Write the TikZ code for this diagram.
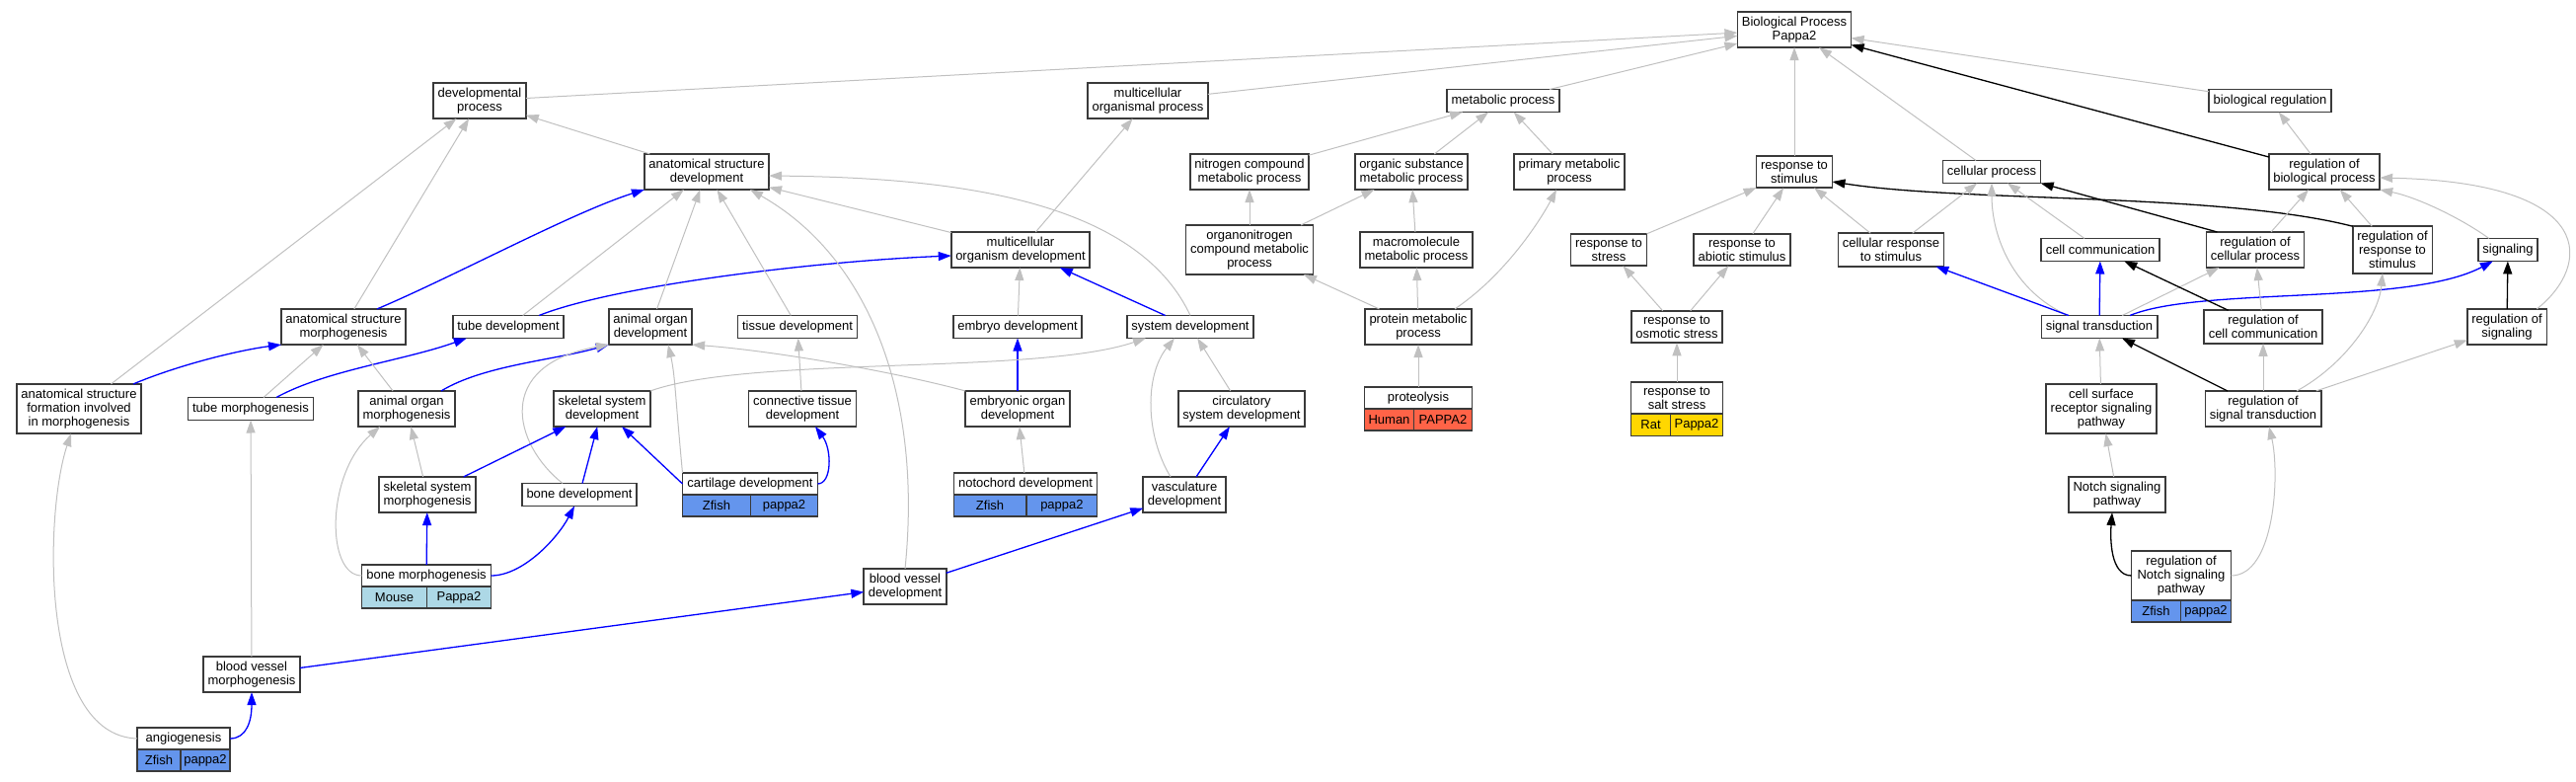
\documentclass[tikz,border=0pt]{standalone}
\usepackage{fontspec}
\setmainfont{Liberation Sans}
\usetikzlibrary{arrows.meta}
\definecolor{boxgray}{HTML}{3A3A3A}
\definecolor{edgegray}{HTML}{C0C0C0}
\definecolor{zfish}{HTML}{6495ED}
\definecolor{mouse}{HTML}{ADD8E6}
\definecolor{human}{HTML}{FF6347}
\definecolor{rat}{HTML}{FFD700}
\newcommand\gofont{\fontsize{13}{14}\selectfont}
\tikzset{
  term/.style={draw=boxgray, line width=1.6pt, fill=white, align=center,
    inner xsep=4.5pt, inner ysep=5pt, outer sep=0pt, minimum height=23pt, font=\gofont},
  cell/.style={draw=boxgray, line width=1.2pt, inner sep=0pt, outer sep=0pt,
    minimum height=22pt, font=\gofont},
  golink/.style={draw=edgegray, line width=1pt, -{Triangle[length=13pt,width=9pt]}},
  bluelink/.style={draw=blue, line width=1.3pt, -{Triangle[length=13pt,width=9pt]}},
  blacklink/.style={draw=black, line width=1.3pt, -{Triangle[length=13pt,width=9pt]}}
}
\begin{document}
\begin{tikzpicture}[x=1pt,y=-1pt]
  \useasboundingbox (0,0) rectangle (2610,792);

  \node[term] (bp) at (1818,30) {Biological Process\\Pappa2};

  \node[term] (devproc)   at (486,102)  {developmental\\process};
  \node[term] (mcorgproc) at (1163,102) {multicellular\\organismal process};
  \node[term] (metproc)   at (1523,102) {metabolic process};
  \node[term] (bioreg)    at (2300,102) {biological regulation};

  \node[term] (asdev)    at (716,174)  {anatomical structure\\development};
  \node[term] (ncmet)    at (1266,174) {nitrogen compound\\metabolic process};
  \node[term] (osmet)    at (1430,174) {organic substance\\metabolic process};
  \node[term] (primet)   at (1590,174) {primary metabolic\\process};
  \node[term] (respstim) at (1818,174) {response to\\stimulus};
  \node[term] (cellproc) at (2018,174) {cellular process};
  \node[term] (regbio)   at (2355,174) {regulation of\\biological process};

  \node[term] (mcodev)     at (1034,253) {multicellular\\organism development};
  \node[term] (onmet)      at (1266,253) {organonitrogen\\compound metabolic\\process};
  \node[term] (macmet)     at (1435,253) {macromolecule\\metabolic process};
  \node[term] (respstress) at (1630,253) {response to\\stress};
  \node[term] (respabio)   at (1765,253) {response to\\abiotic stimulus};
  \node[term] (cellresp)   at (1916,253) {cellular response\\to stimulus};
  \node[term] (cellcomm)   at (2128,253) {cell communication};
  \node[term] (regcell)    at (2285,253) {regulation of\\cellular process};
  \node[term] (regresp)    at (2424,253) {regulation of\\response to\\stimulus};
  \node[term] (signaling)  at (2541,253) {signaling};

  \node[term] (asmorph)   at (348,331)  {anatomical structure\\morphogenesis};
  \node[term] (tubedev)   at (515,331)  {tube development};
  \node[term] (aodev)     at (659,331)  {animal organ\\development};
  \node[term] (tissdev)   at (808,331)  {tissue development};
  \node[term] (embdev)    at (1031,331) {embryo development};
  \node[term] (sysdev)    at (1206,331) {system development};
  \node[term] (protmet)   at (1437,331) {protein metabolic\\process};
  \node[term] (osmstress) at (1699,331) {response to\\osmotic stress};
  \node[term] (sigtrans)  at (2127,331) {signal transduction};
  \node[term] (regcomm)   at (2293,331) {regulation of\\cell communication};
  \node[term] (regsig)    at (2540,331) {regulation of\\signaling};

  \node[term] (asform)    at (80,414)   {anatomical structure\\formation involved\\in morphogenesis};
  \node[term] (tubemorph) at (254,414)  {tube morphogenesis};
  \node[term] (aomorph)   at (412,414)  {animal organ\\morphogenesis};
  \node[term] (skeldev)   at (610,414)  {skeletal system\\development};
  \node[term] (conndev)   at (813,414)  {connective tissue\\development};
  \node[term] (embodev)   at (1031,414) {embryonic organ\\development};
  \node[term] (circdev)   at (1258,414) {circulatory\\system development};
  \node[term] (cellsurf)  at (2129,414) {cell surface\\receptor signaling\\pathway};
  \node[term] (regst)     at (2293,414) {regulation of\\signal transduction};

  \node[term, minimum width=109pt, minimum height=22pt] (proteol) at (1437,403) {proteolysis};
  \node[cell, fill=human, minimum width=50pt, anchor=north west] (proteol-sp) at (proteol.south west) {Human};
  \node[cell, fill=human, minimum width=59pt, anchor=north east] (proteol-gene) at (proteol.south east) {PAPPA2};

  \node[term, minimum width=93pt] (saltstress) at (1699,403) {response to\\salt stress};
  \node[cell, fill=rat, minimum width=40pt, anchor=north west] (saltstress-sp) at (saltstress.south west) {Rat};
  \node[cell, fill=rat, minimum width=53pt, anchor=north east] (saltstress-gene) at (saltstress.south east) {Pappa2};

  \node[term] (skelmorph) at (433,501)  {skeletal system\\morphogenesis};
  \node[term] (bonedev)   at (587,501)  {bone development};
  \node[term] (vascdev)   at (1200,501) {vasculature\\development};
  \node[term] (notch)     at (2145,501) {Notch signaling\\pathway};

  \node[term, minimum width=137pt, minimum height=22pt] (cartdev) at (760,490) {cartilage development};
  \node[cell, fill=zfish, minimum width=69pt, anchor=north west] (cartdev-sp) at (cartdev.south west) {Zfish};
  \node[cell, fill=zfish, minimum width=68pt, anchor=north east] (cartdev-gene) at (cartdev.south east) {pappa2};

  \node[term, minimum width=144pt, minimum height=22pt] (notodev) at (1039,490) {notochord development};
  \node[cell, fill=zfish, minimum width=73pt, anchor=north west] (notodev-sp) at (notodev.south west) {Zfish};
  \node[cell, fill=zfish, minimum width=71pt, anchor=north east] (notodev-gene) at (notodev.south east) {pappa2};

  \node[term, minimum width=131pt, minimum height=22pt] (bonemorph) at (432,583) {bone morphogenesis};
  \node[cell, fill=mouse, minimum width=66pt, anchor=north west] (bonemorph-sp) at (bonemorph.south west) {Mouse};
  \node[cell, fill=mouse, minimum width=65pt, anchor=north east] (bonemorph-gene) at (bonemorph.south east) {Pappa2};

  \node[term] (bvdev) at (917,594) {blood vessel\\development};

  \node[term, minimum width=101pt] (regnotch) at (2210,583) {regulation of\\Notch signaling\\pathway};
  \node[cell, fill=zfish, minimum width=50pt, anchor=north west] (regnotch-sp) at (regnotch.south west) {Zfish};
  \node[cell, fill=zfish, minimum width=51pt, anchor=north east] (regnotch-gene) at (regnotch.south east) {pappa2};

  \node[term] (bvmorph) at (255,683) {blood vessel\\morphogenesis};

  \node[term, minimum width=94pt, minimum height=22pt] (angio) at (186,748) {angiogenesis};
  \node[cell, fill=zfish, minimum width=44pt, anchor=north west] (angio-sp) at (angio.south west) {Zfish};
  \node[cell, fill=zfish, minimum width=50pt, anchor=north east] (angio-gene) at (angio.south east) {pappa2};

  \draw[golink] (devproc) -- (bp);
  \draw[golink] (mcorgproc) -- (bp);
  \draw[golink] (metproc) -- (bp);
  \draw[golink] (respstim) -- (bp);
  \draw[golink] (cellproc) -- (bp);
  \draw[golink] (bioreg) -- (bp);
  \draw[blacklink] (regbio) -- (bp);

  \draw[golink] (asdev) -- (devproc);
  \draw[golink] (asmorph) -- (devproc);
  \draw[golink] (asform) -- (devproc);
  \draw[golink] (mcodev) -- (mcorgproc);
  \draw[golink] (mcodev) -- (asdev);
  \draw[golink] (sysdev.north) .. controls (1150,200) and (960,180) .. ([yshift=-4pt]asdev.east);

  \draw[golink] (ncmet) -- (metproc);
  \draw[golink] (osmet) -- (metproc);
  \draw[golink] (primet) -- (metproc);
  \draw[golink] (onmet) -- (ncmet);
  \draw[golink] (onmet) -- (osmet);
  \draw[golink] (macmet) -- (osmet);
  \draw[golink] (protmet) -- (onmet);
  \draw[golink] (protmet) -- (macmet);
  \draw[golink] ([xshift=-17pt]protmet.north east) .. controls (1530,275) and (1565,215) .. ([xshift=-13pt]primet.south);
  \draw[golink] (proteol) -- (protmet);

  \draw[golink] (respstress) -- (respstim);
  \draw[golink] (respabio) -- (respstim);
  \draw[golink] (cellresp) -- (respstim);
  \draw[golink] (osmstress) -- (respstress);
  \draw[golink] (osmstress) -- (respabio);
  \draw[golink] (saltstress) -- (osmstress);
  \draw[blacklink] (regresp.north west) .. controls (2250,195) and (1990,205) .. ([yshift=-10pt]respstim.east);

  \draw[golink] (cellresp) -- (cellproc);
  \draw[golink] (cellcomm) -- (cellproc);
  \draw[golink] ([xshift=27pt]sigtrans.north west) .. controls (2040,295) and (2018,240) .. (cellproc.south);
  \draw[blacklink] ([xshift=11pt]regcell.north west) -- (cellproc.south east);
  \draw[golink] (regbio) -- (bioreg);
  \draw[golink] (regcell) -- (regbio);
  \draw[golink] (regresp) -- (regbio);
  \draw[golink] ([xshift=11pt]signaling.north west) .. controls (2495,222) and (2450,200) .. (regbio.south east);
  \draw[golink] ([xshift=-10pt]regsig.north east) .. controls (2625,270) and (2635,185) .. ([yshift=-6pt]regbio.east);

  \draw[bluelink] (sigtrans) -- (cellresp);
  \draw[bluelink] (sigtrans) -- (cellcomm);
  \draw[bluelink] ([xshift=31pt]sigtrans.north) .. controls (2230,290) and (2440,310) .. ([xshift=15pt]signaling.south west);
  \draw[golink] (sigtrans) -- (regcell);
  \draw[blacklink] (regcomm) -- (cellcomm);
  \draw[golink] (regcomm) -- (regcell);
  \draw[blacklink] (regsig) -- (signaling);
  \draw[blacklink] (regst) -- (sigtrans);
  \draw[golink] (regst) -- (regcomm);
  \draw[golink] (regst) -- (regsig);
  \draw[golink] ([xshift=34pt]regst.north) .. controls (2375,370) and (2410,320) .. ([xshift=-10pt]regresp.south);
  \draw[golink] (cellsurf) -- (sigtrans);
  \draw[golink] (notch) -- (cellsurf);
  \draw[blacklink] (regnotch.west) .. controls (2138,583) and (2138,545) .. ([xshift=-5pt]notch.south);
  \draw[golink] (regnotch.east) .. controls (2305,583) and (2310,480) .. ([xshift=6pt]regst.south);

  \draw[bluelink] ([xshift=34pt]asmorph.north) .. controls (460,280) and (580,215) .. (asdev.south west);
  \draw[golink] (tubedev) -- (asdev);
  \draw[bluelink] ([xshift=-25pt]tubedev.north east) .. controls (620,290) and (820,265) .. ([yshift=-6pt]mcodev.west);
  \draw[golink] (aodev) -- (asdev);
  \draw[golink] (tissdev) -- (asdev);
  \draw[golink] (bvdev.north) .. controls (935,400) and (880,260) .. ([xshift=44pt]asdev.south);
  \draw[bluelink] (sysdev) -- (mcodev);
  \draw[golink] (embdev) -- (mcodev);

  \draw[bluelink] ([xshift=-8pt]asform.north east) .. controls (180,370) and (240,355) .. (asmorph.south west);
  \draw[golink] (tubemorph) -- (asmorph);
  \draw[bluelink] ([xshift=26pt]tubemorph.north) .. controls (330,375) and (410,365) .. ([xshift=14pt]tubedev.south west);
  \draw[golink] (aomorph) -- (asmorph);
  \draw[bluelink] ([xshift=35pt]aomorph.north) .. controls (490,370) and (560,365) .. (aodev.south west);
  \draw[golink] ([xshift=41pt]bonedev.north west) .. controls (520,450) and (500,370) .. (aodev.south west);
  \draw[golink] (cartdev.north west) .. controls (684,400) and (684,380) .. ([xshift=18pt]aodev.south);
  \draw[golink] (embodev.north west) .. controls (900,375) and (780,355) .. (aodev.south east);
  \draw[golink] (conndev) -- (tissdev);
  \draw[bluelink] (embodev) -- (embdev);
  \draw[golink] (notodev) -- (embodev);
  \draw[golink] (skeldev.north east) .. controls (760,360) and (1050,380) .. ([xshift=-45pt]sysdev.south);
  \draw[golink] ([xshift=-14pt]vascdev.north) .. controls (1160,440) and (1160,380) .. ([xshift=-16pt]sysdev.south);
  \draw[golink] (circdev) -- (sysdev);
  \draw[bluelink] (vascdev) -- (circdev);

  \draw[bluelink] (cartdev.east) .. controls (843,490) and (843,455) .. ([xshift=13pt]conndev.south);
  \draw[bluelink] (cartdev.west) -- ([xshift=20pt]skeldev.south);
  \draw[bluelink] (skelmorph) -- (skeldev);
  \draw[golink] (skelmorph) -- (aomorph);
  \draw[bluelink] (bonedev) -- (skeldev);
  \draw[bluelink] (bonemorph) -- (skelmorph);
  \draw[bluelink] (bonemorph.east) .. controls (530,583) and (565,545) .. ([xshift=-5pt]bonedev.south);
  \draw[golink] (bonemorph.west) .. controls (330,583) and (330,480) .. ([xshift=22pt]aomorph.south west);

  \draw[bluelink] (bvdev) -- (vascdev);
  \draw[bluelink] (bvmorph) -- (bvdev);
  \draw[golink] (bvmorph) -- (tubemorph);
  \draw[bluelink] (angio.east) .. controls (250,748) and (255,730) .. (bvmorph.south);
  \draw[golink] (angio.west) .. controls (40,745) and (45,520) .. ([xshift=-8pt]asform.south);
\end{tikzpicture}
\end{document}
